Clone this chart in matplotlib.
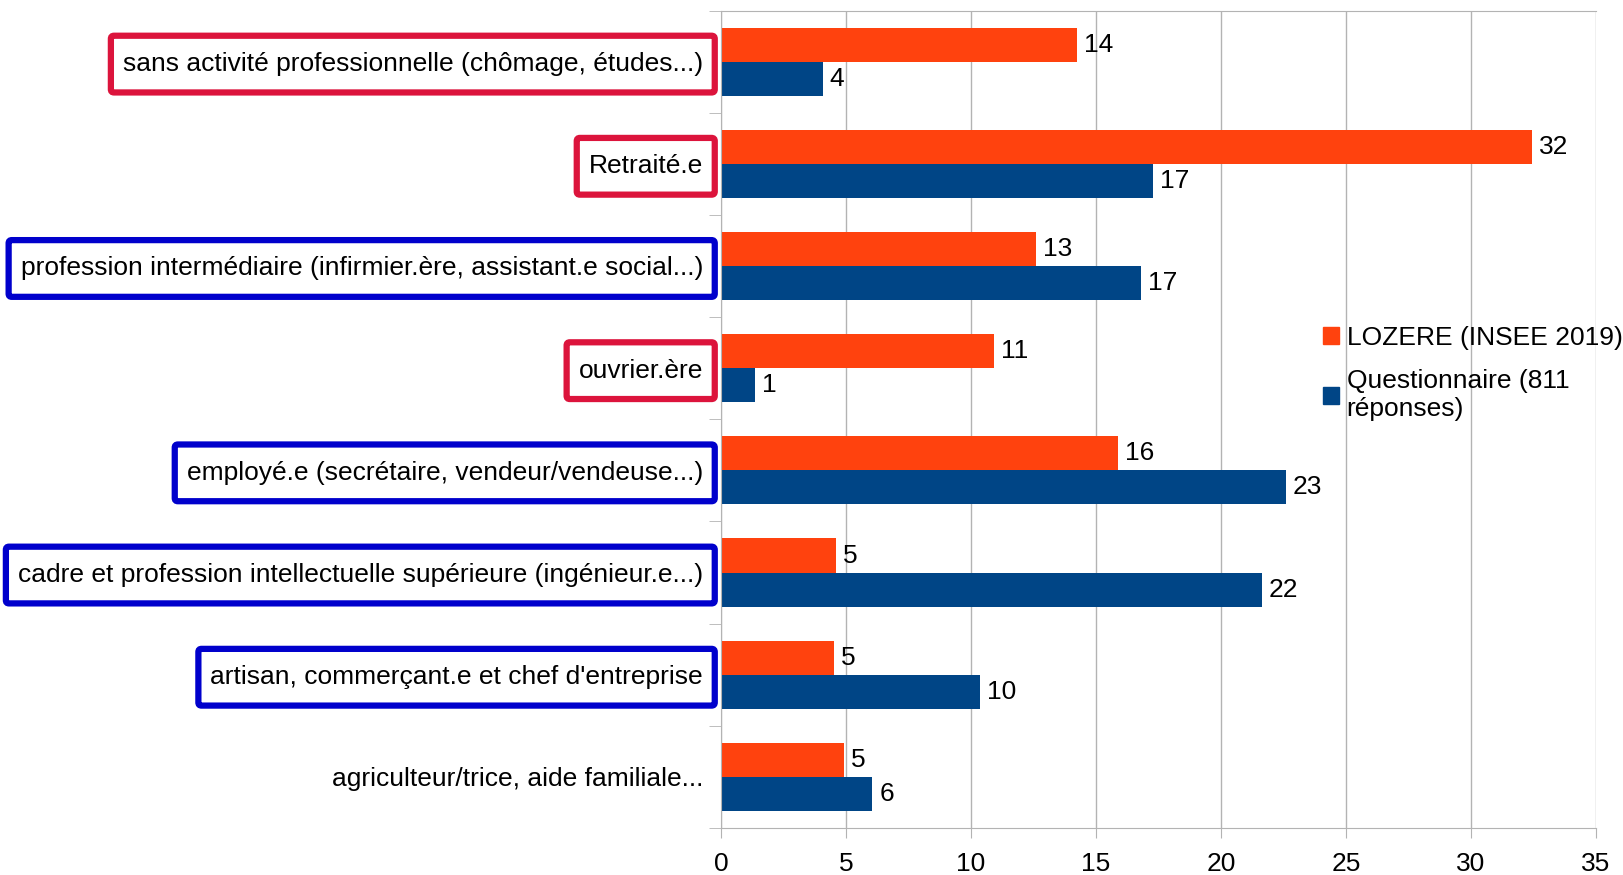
import numpy as np
import matplotlib
matplotlib.use('Agg')
import matplotlib.pyplot as plt
from matplotlib.patches import Patch, BoxStyle

plt.rcParams['font.family'] = ['Liberation Sans', 'DejaVu Sans']

categories = [
    "sans activité professionnelle (chômage, études...)",
    "Retraité.e",
    "profession intermédiaire (infirmier.ère, assistant.e social...)",
    "ouvrier.ère",
    "employé.e (secrétaire, vendeur/vendeuse...)",
    "cadre et profession intellectuelle supérieure (ingénieur.e...)",
    "artisan, commerçant.e et chef d'entreprise",
    "agriculteur/trice, aide familiale...",
]
lozere = [14.24, 32.42, 12.62, 10.92, 15.90, 4.61, 4.52, 4.94]
questionnaire = [4.07, 17.27, 16.81, 1.37, 22.58, 21.63, 10.38, 6.06]
series_names = ["LOZERE (INSEE 2019)", "Questionnaire (811\nréponses)"]
# couleur du cadre autour de chaque libellé (None = pas de cadre)
box_colors = ['#dc143c', '#dc143c', '#0000cc', '#dc143c', '#0000cc', '#0000cc', '#0000cc', None]

c_orange = '#ff420e'
c_blue = '#004586'
grid_c = '#b3b3b3'
fs = 19


def tall_box(x0, y0, width, height, mutation_size):
    # cadre un peu plus haut que large (pad vertical > pad horizontal)
    px, py = 0.45 * mutation_size, 0.62 * mutation_size
    return BoxStyle.Round(pad=0, rounding_size=0.12)(
        x0 - px, y0 - py, width + 2 * px, height + 2 * py, mutation_size)


fig = plt.figure(figsize=(16.23, 8.75), dpi=100)
ax = fig.add_axes([0.4442, 0.0537, 0.5392, 0.9343])

y = np.arange(len(categories))
h = 1 / 3
b1 = ax.barh(y - h / 2, lozere, height=h, color=c_orange, zorder=2)
b2 = ax.barh(y + h / 2, questionnaire, height=h, color=c_blue, zorder=2)

for bars, vals in ((b1, lozere), (b2, questionnaire)):
    for bar, v in zip(bars, vals):
        ax.annotate(f"{v:.0f}", (v, bar.get_y() + bar.get_height() / 2),
                    xytext=(5, 0), textcoords='offset points',
                    va='center', ha='left', fontsize=fs)

ax.set_xlim(0, 35)
ax.set_ylim(len(categories) - 0.5, -0.5)
ax.set_xticks(np.arange(0, 36, 5))
ax.tick_params(axis='x', labelsize=fs, length=7, color=grid_c, pad=10)
ax.xaxis.grid(True, color=grid_c, lw=1, zorder=0)

ax.set_yticks(y)
ax.set_yticklabels(categories, fontsize=fs)
ax.set_yticks(np.arange(-0.5, len(categories), 1), minor=True)
ax.tick_params(axis='y', which='major', length=0, pad=13)
ax.tick_params(axis='y', which='minor', length=9, color=grid_c)

for lab, col in zip(ax.get_yticklabels(), box_colors):
    if col:
        lab.set_bbox(dict(boxstyle=tall_box, fc='white', ec=col, lw=4.5))

for s in ('left', 'bottom', 'top'):
    ax.spines[s].set_color(grid_c)
ax.spines['right'].set_visible(False)

handles = [Patch(color=c_orange), Patch(color=c_blue)]
fig.legend(handles, series_names, loc='upper left',
           bbox_to_anchor=(0.8085, 0.64), frameon=False, fontsize=fs,
           handlelength=0.6, handleheight=0.6, handletextpad=0.3,
           labelspacing=0.75, borderaxespad=0)

fig.savefig('out.png', dpi=100)
